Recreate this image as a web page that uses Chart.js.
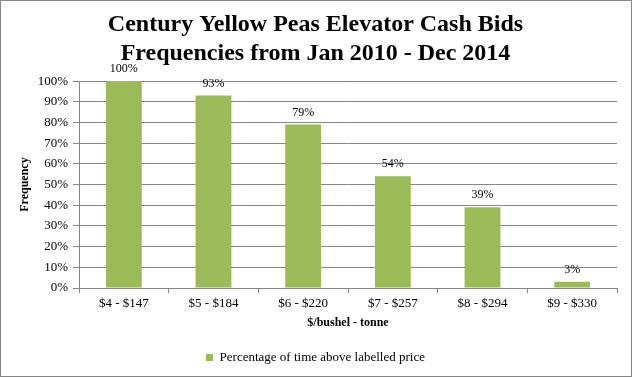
<!DOCTYPE html>
<html><head><meta charset="utf-8">
<script src="https://cdn.jsdelivr.net/npm/chart.js@4/dist/chart.umd.min.js"></script>
<style>html,body{margin:0;padding:0;background:#fff}#wrap{width:632px;height:377px}</style>
</head><body><div id="wrap"><canvas id="c" width="632" height="377"></canvas></div>
<script>
const categories = ["$4 - $147","$5 - $184","$6 - $220","$7 - $257","$8 - $294","$9 - $330"];
const values = [100, 93, 79, 54, 39, 3];
const seriesName = "Percentage of time above labelled price";
const titleLines = ["Century Yellow Peas Elevator Cash Bids","Frequencies from Jan 2010 - Dec 2014"];
const xTitle = "$/bushel - tonne";
const yTitle = "Frequency";

const serif = "'Liberation Serif','Times New Roman',serif";

const labelsPlugin = {
  id: 'barLabels',
  afterDatasetsDraw(chart){
    const ctx = chart.ctx;
    const meta = chart.getDatasetMeta(0);
    ctx.save();
    ctx.font = "12px " + serif;
    ctx.fillStyle = "#000";
    ctx.textAlign = "center";
    ctx.textBaseline = "middle";
    meta.data.forEach((el,i)=>{
      ctx.fillText(values[i] + "%", el.x, el.y - 12);
    });
    ctx.restore();
  }
};
const borderPlugin = {
  id: 'outerBorder',
  afterDraw(chart){
    const ctx = chart.ctx;
    ctx.save();
    ctx.strokeStyle = "#868686";
    ctx.lineWidth = 1;
    ctx.strokeRect(0.5,0.5,chart.width-1,chart.height-1);
    ctx.restore();
  }
};

new Chart(document.getElementById('c'), {
  type: 'bar',
  data: {
    labels: categories,
    datasets: [{
      label: seriesName,
      data: values,
      backgroundColor: '#9BBB59',
      borderWidth: 0,
      categoryPercentage: 0.40,
      barPercentage: 1.0
    }]
  },
  options: {
    responsive: false,
    animation: false,
    devicePixelRatio: 1,
    layout: { padding: { left: 14, right: 15, top: 4, bottom: 3 } },
    plugins: {
      title: {
        display: true,
        text: titleLines,
        color: '#000',
        font: { family: serif, size: 24, weight: 'bold', lineHeight: 1.21 },
        padding: { top: 6, bottom: 13 }
      },
      legend: {
        display: true,
        position: 'bottom',
        labels: {
          color: '#000',
          font: { family: serif, size: 13 },
          boxWidth: 7, boxHeight: 7,
          padding: 5
        }
      },
      tooltip: { enabled: false }
    },
    scales: {
      x: {
        grid: { display: true, offset: true, drawOnChartArea: false, color: '#868686', tickLength: 5 },
        border: { display: true, color: '#868686' },
        ticks: { color: '#000', font: { family: serif, size: 13 }, padding: 3, maxRotation: 0 },
        title: { display: true, text: xTitle, color: '#000', font: { family: serif, size: 12, weight: 'bold' }, padding: { top: 1, bottom: 16 } }
      },
      y: {
        min: 0, max: 100,
        afterFit(scale){ scale.width = 65; },
        ticks: { stepSize: 10, color: '#000', font: { family: serif, size: 13 }, padding: 5, callback: v => v + '%' },
        grid: { color: '#868686', tickLength: 6 },
        border: { display: true, color: '#868686' },
        title: { display: true, text: yTitle, color: '#000', font: { family: serif, size: 12, weight: 'bold' }, padding: { top: 4, bottom: 0 } }
      }
    }
  },
  plugins: [labelsPlugin, borderPlugin]
});
</script></body></html>
